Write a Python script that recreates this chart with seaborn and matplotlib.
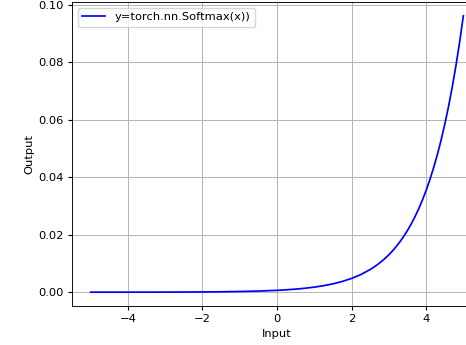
import matplotlib
matplotlib.use("Agg")
import matplotlib.pyplot as plt
import seaborn as sns
import pandas as pd

# Values
x_vals = [-5.0, -4.5, -4.0, -3.5, -3.0, -2.5, -2.0, -1.5, -1.0, -0.5, 0.0, 0.25, 0.5, 0.75,
          1.0, 1.25, 1.5, 1.75, 2.0, 2.25, 2.5, 2.6, 2.7, 2.8, 2.9, 3.0, 3.1, 3.2, 3.3,
          3.4, 3.5, 3.6, 3.7, 3.8, 3.9, 4.0, 4.1, 4.2, 4.3, 4.4, 4.5, 4.6, 4.7, 4.8,
          4.9, 5.0]
y_vals = [0.0000044, 0.0000072, 0.0000119, 0.0000196, 0.0000322, 0.0000532, 0.0000877,
          0.000145, 0.000238, 0.000393, 0.000648, 0.00083, 0.00107, 0.00137,
          0.00176, 0.00226, 0.0029, 0.00373, 0.00479, 0.00614, 0.00789, 0.00872,
          0.00964, 0.01065, 0.01177, 0.01301, 0.01438, 0.01589, 0.01756, 0.01941,
          0.02145, 0.0237, 0.0262, 0.02895, 0.032, 0.03536, 0.03908, 0.04319,
          0.04773, 0.05275, 0.0583, 0.06443, 0.07121, 0.0787, 0.08697, 0.09612]
series_label = "y=torch.nn.Softmax(x))"
x_label = "Input"
y_label = "Output"

df = pd.DataFrame({"x": x_vals, "y": y_vals})

s = 0.826
plt.rcParams["font.size"] = 10 * s
plt.rcParams["font.family"] = ["DejaVu Sans"]
plt.rcParams["xtick.major.size"] = 3.5 * s
plt.rcParams["ytick.major.size"] = 3.5 * s
plt.rcParams["xtick.major.pad"] = 3.5 * s
plt.rcParams["ytick.major.pad"] = 3.5 * s
plt.rcParams["axes.labelpad"] = 4.0 * s
plt.rcParams["axes.linewidth"] = 0.8 * s

fig = plt.figure(figsize=(4.66, 3.45), dpi=100)
ax = fig.add_axes([72 / 466, 39 / 345, 410 / 466, 304 / 345])
sns.lineplot(data=df, x="x", y="y", ax=ax, color="blue", label=series_label, linewidth=1.25)
ax.set_xlabel(x_label)
ax.set_ylabel(y_label)
ax.grid(True, color="#b0b0b0", linewidth=0.8 * s)
ax.set_xticks([-4, -2, 0, 2, 4])
ax.set_xticklabels(["\u22124", "\u22122", "0", "2", "4"])
ax.set_yticks([0.0, 0.02, 0.04, 0.06, 0.08, 0.10])
ax.set_yticklabels(["0.00", "0.02", "0.04", "0.06", "0.08", "0.10"])
ax.set_xlim(-5.5, 5.5)
ax.set_ylim(-0.0048, 0.1009)
ax.legend(loc="upper left")
fig.savefig("out.png", dpi=100)
